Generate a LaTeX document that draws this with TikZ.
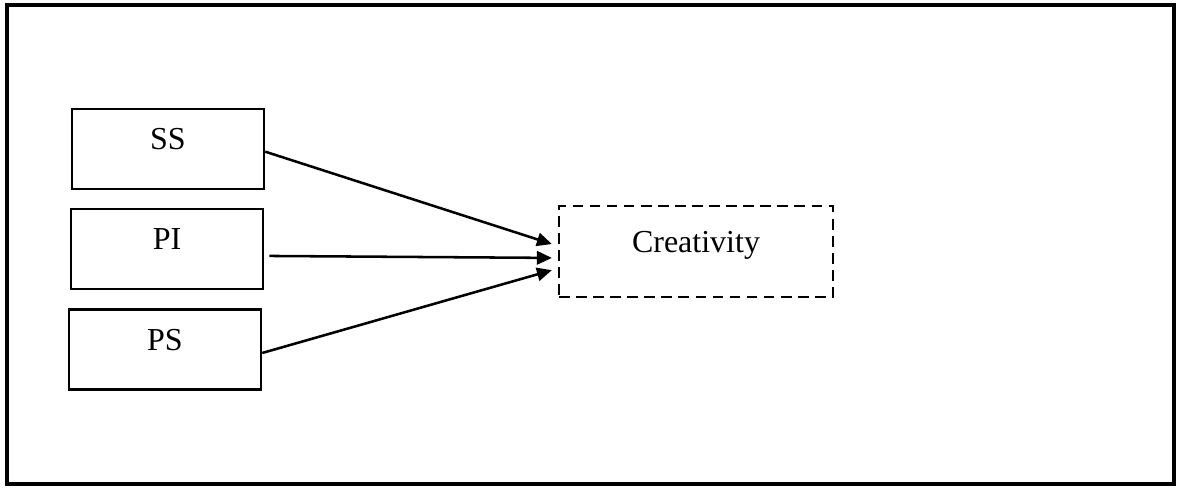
\documentclass[tikz,border=0pt]{standalone}
\usepackage{fontspec}
\setmainfont{Liberation Serif}
\usetikzlibrary{arrows.meta}

\begin{document}
\begin{tikzpicture}[x=0.375pt, y=-0.375pt,
    box/.style={draw=black, line width=0.95pt, minimum width=72pt, minimum height=30pt,
        font=\fontsize{12}{14}\selectfont, text height=8pt, text depth=7.5pt, inner sep=0pt},
    goal/.style={box, dash pattern=on 4pt off 2.4pt, minimum width=102.75pt, minimum height=34pt},
    link/.style={line width=0.95pt, -{Triangle[length=5.6pt, width=5pt]}}]
    \useasboundingbox (0, 0) rectangle (1179, 488);
    %Frame
    \draw[line width=1.3pt] (7, 5) rectangle (1174, 484);

    %Nodes
    \node[box] at (168, 149) (ss) {SS};
    \node[box] at (167, 249) (pi) {PI};
    \node[box] at (165, 349.5) (ps) {PS};
    \node[goal] at (696, 251.5) (cr) {Creativity};

    %Lines
    \draw[link] ([yshift=-1pt]ss.east) -- ([xshift=-2.2pt, yshift=2.8pt]cr.west);
    \draw[link] ([xshift=1.9pt, yshift=-2.6pt]pi.east) -- ([xshift=-2.2pt, yshift=-2.4pt]cr.west);
    \draw[link] ([yshift=-1.3pt]ps.east) -- ([xshift=-2.2pt, yshift=-7pt]cr.west);
\end{tikzpicture}
\end{document}
